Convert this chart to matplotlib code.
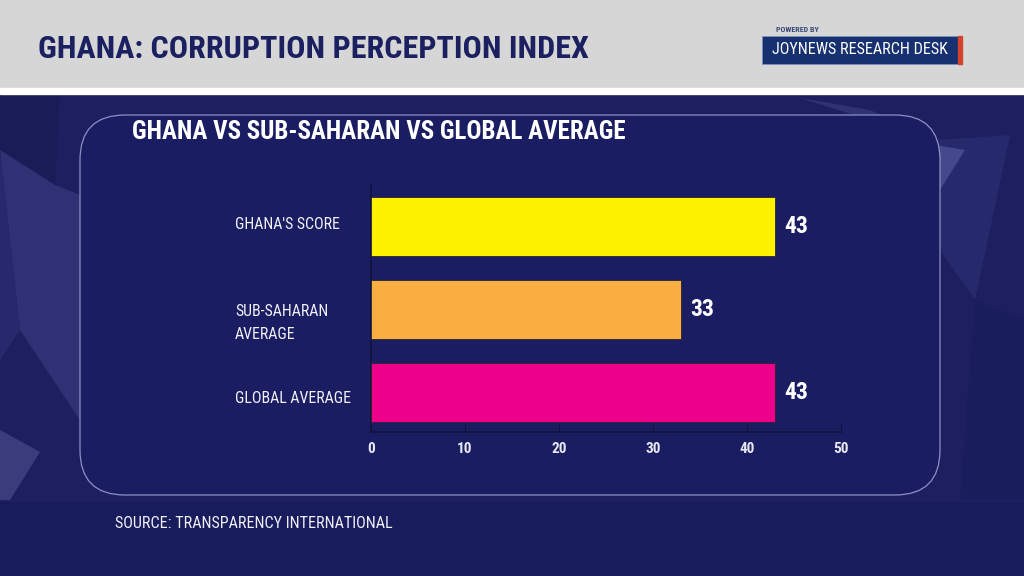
import matplotlib
matplotlib.use("Agg")
import matplotlib.pyplot as plt
from matplotlib.patches import FancyBboxPatch, Rectangle, Polygon

# data
categories = ["GHANA'S SCORE", "SUB-SAHARAN\nAVERAGE", "GLOBAL AVERAGE"]
scores = [43, 33, 43]
bar_colors = ["#fff200", "#f9ae42", "#ec008c"]
x_ticks = [0, 10, 20, 30, 40, 50]

title = "GHANA: CORRUPTION PERCEPTION INDEX"
subtitle = "GHANA VS SUB-SAHARAN VS GLOBAL AVERAGE"
source = "SOURCE: TRANSPARENCY INTERNATIONAL"

W, H = 1024, 576
bg_navy = "#1c1e62"
fam = ["Roboto Condensed", "Roboto", "DejaVu Sans"]

fig = plt.figure(figsize=(W / 100, H / 100), dpi=100)
fig.patch.set_facecolor(bg_navy)

# decoration layer in pixel coordinates
deco = fig.add_axes([0, 0, 1, 1])
deco.set_xlim(0, W)
deco.set_ylim(H, 0)
deco.axis("off")

deco.add_patch(Rectangle((0, 0), W, 88, color="#d6d6d6", zorder=1))
deco.add_patch(Rectangle((0, 88), W, 6, color="#ffffff", zorder=1))
deco.add_patch(Rectangle((0, 94), W, 408, color="#1d1f60", zorder=0.5))
deco.add_patch(Rectangle((0, 502), W, 74, color="#181b5c", zorder=1))

# faint facets in the background
facets = [
    ([(0, 94), (60, 94), (55, 185), (0, 150)], "#1a1c58"),
    ([(0, 150), (55, 185), (80, 195), (80, 420), (20, 330)], "#2f3174"),
    ([(0, 150), (20, 330), (0, 360)], "#27296c"),
    ([(0, 430), (40, 452), (10, 500), (0, 500)], "#3a3c7c"),
    ([(800, 98), (870, 110), (935, 140)], "#2f3275"),
    ([(935, 140), (1010, 135), (975, 300), (940, 250)], "#262a6c"),
    ([(935, 145), (965, 150), (940, 190)], "#45488a"),
    ([(975, 300), (1024, 320), (1024, 500), (960, 500)], "#1a1d5c"),
]
for pts, col in facets:
    deco.add_patch(Polygon(pts, closed=True, color=col, zorder=0.8, lw=0))

panel = FancyBboxPatch((80, 115), 860, 380, boxstyle="round,pad=0,rounding_size=45",
                       facecolor="#1b1d63", edgecolor="#8d90c4", lw=0.9, zorder=2)
deco.add_patch(panel)

deco.text(38, 49, title, fontsize=23, fontweight="bold", color="#1b2060",
          family=fam, va="center", ha="left", zorder=3)
deco.text(776, 30, "POWERED BY", fontsize=5.8, fontweight="bold", color="#3c4a78",
          family=fam, va="center", ha="left", zorder=3)
deco.add_patch(Rectangle((762, 36), 196, 28, facecolor="#17306f", edgecolor="#7e8fc0",
                         lw=0.6, zorder=3))
deco.add_patch(Rectangle((958, 36), 4, 28, color="#d2452a", zorder=3))
deco.text(860, 50, "JOYNEWS RESEARCH DESK", fontsize=11.6, color="white",
          family=fam, va="center", ha="center", zorder=4)

deco.text(132, 132, subtitle, fontsize=18, fontweight="bold", color="white",
          family=fam, va="center", ha="left", zorder=3)
deco.text(115, 524, source, fontsize=11.6, color="#f0f0f8",
          family=fam, va="center", ha="left", zorder=3)

# bar chart
ax = fig.add_axes([371 / W, 1 - 432 / H, 470 / W, 247 / H])
ax.set_facecolor("none")
ypos = list(range(len(categories)))
ax.barh(ypos, scores, height=0.71, color=bar_colors, edgecolor="#2a2430", lw=0.6, zorder=3)
ax.set_xlim(0, 50)
ax.set_ylim(2.48, -0.5)

for y, v in zip(ypos, scores):
    ax.text(v + 1.0, y, str(v), fontsize=17, fontweight="bold", color="white",
            family=fam, va="center", ha="left")

ax.set_xticks(x_ticks)
ax.set_xticklabels([str(t) for t in x_ticks], fontsize=11, fontweight="bold",
                   color="#e8e8f2", family=fam)
ax.tick_params(axis="x", direction="in", length=6, color="#11133d", pad=7)
ax.set_yticks(ypos)
ax.set_yticklabels(categories, fontsize=11.4, color="#f0f0f8",
                   family=fam, ha="left", linespacing=1.7)
ax.tick_params(axis="y", length=0, pad=98)
# nudge the labels vertically, as in the original
offsets = [-3, 8, 5]
for lbl, dy in zip(ax.get_yticklabels(), offsets):
    lbl.set_transform(lbl.get_transform() + matplotlib.transforms.ScaledTranslation(
        0, -dy / 100, fig.dpi_scale_trans))

for side in ["top", "right"]:
    ax.spines[side].set_visible(False)
for side in ["left", "bottom"]:
    ax.spines[side].set_color("#11133d")
    ax.spines[side].set_linewidth(1.2)

fig.savefig("out.png", dpi=100, facecolor=fig.get_facecolor())
